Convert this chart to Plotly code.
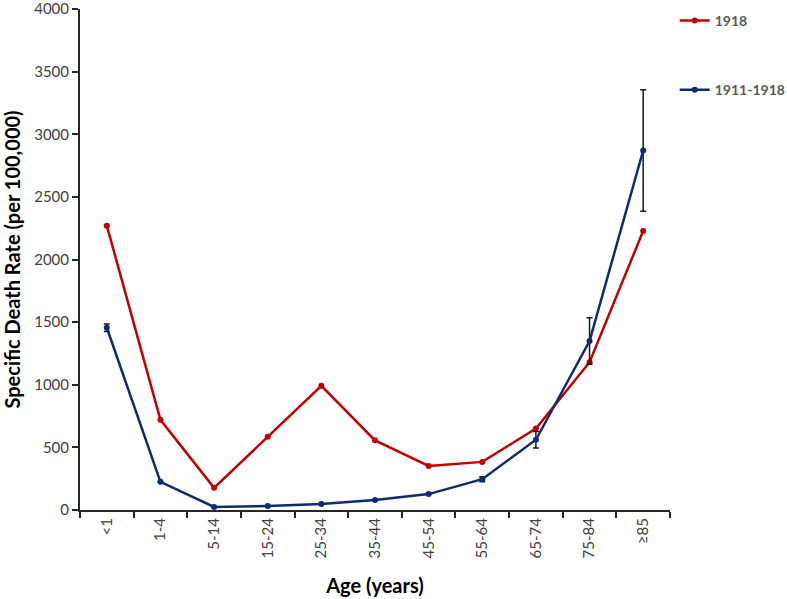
import plotly.graph_objects as go

ages = ["<1", "1-4", "5-14", "15-24", "25-34", "35-44", "45-54", "55-64", "65-74", "75-84", "≥85"]
rate_1918 = [2270, 720, 177, 585, 992, 556, 352, 384, 651, 1180, 2228]
rate_1911_1918 = [1455, 225, 24, 32, 48, 79, 127, 246, 561, 1349, 2870]
err_1911_1918 = [30, 0, 0, 0, 0, 0, 0, 20, 65, 185, 485]

font_family = "Lato, 'Open Sans', sans-serif"

fig = go.Figure()
fig.add_trace(go.Scatter(
    x=ages, y=rate_1918, mode="lines+markers", name="1918",
    line=dict(color="#C00000", width=2.5), marker=dict(size=6, color="#C00000"),
    legendgroup="a",
))
fig.add_trace(go.Scatter(
    x=ages, y=rate_1911_1918, mode="lines+markers", name="1911-1918",
    line=dict(color="#0E2C6B", width=2.5), marker=dict(size=6, color="#0E2C6B"),
    error_y=dict(type="data", array=err_1911_1918, visible=True, color="#1a1a1a", thickness=1.5, width=3),
    legendgroup="b",
))

fig.update_layout(
    width=787, height=599,
    margin=dict(l=80, r=117, t=9, b=89, autoexpand=False),
    paper_bgcolor="white", plot_bgcolor="white",
    font=dict(family=font_family, size=15, color="#262626"),
    showlegend=True,
    legend=dict(x=1.008, y=1.008, xanchor="left", yanchor="top",
                font=dict(size=14, color="#595959", family=font_family, weight="bold"),
                tracegroupgap=48, itemwidth=30, bgcolor="rgba(0,0,0,0)"),
    xaxis=dict(
        type="category", range=[-0.5, 10.5],
        showline=True, linecolor="#262626", linewidth=2,
        ticks="outside", ticklen=6, tickwidth=1.5, tickcolor="#262626",
        tickson="boundaries", tickangle=-90, showgrid=False, zeroline=False,
        tickfont=dict(size=15, color="#404040"),
        title=dict(text="<b>Age (years)</b>", font=dict(size=20, color="#000000"), standoff=22),
        automargin=False,
    ),
    yaxis=dict(
        range=[0, 4000], dtick=500,
        showline=True, linecolor="#262626", linewidth=2,
        ticks="outside", ticklen=6, tickwidth=1.5, tickcolor="#262626",
        showgrid=False, zeroline=False,
        tickfont=dict(size=15, color="#404040"),
        ticklabeloverflow="allow",
        title=dict(text="<b>Specific Death Rate (per 100,000)</b>", font=dict(size=20, color="#000000"), standoff=8),
        automargin=False,
    ),
)

fig.write_html("out.html", config={"displayModeBar": False},
               post_script="document.body.style.margin='0';")
